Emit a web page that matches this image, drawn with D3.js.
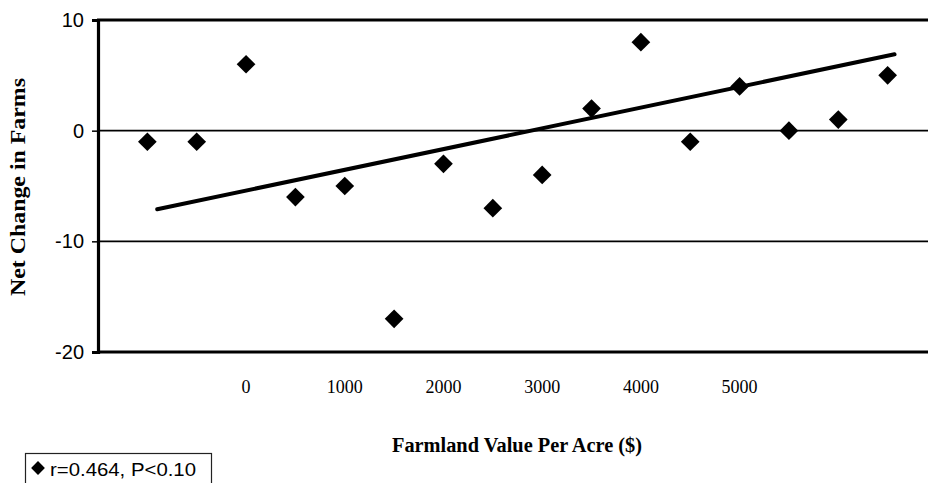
<!DOCTYPE html>
<html>
<head>
<meta charset="utf-8">
<script src="https://cdn.jsdelivr.net/npm/d3@7"></script>
<style>
  html, body { margin: 0; padding: 0; background: #fff; }
  svg { display: block; }
</style>
</head>
<body>
<div id="chart"></div>
<script>
// values
const farmValue = [-1000, -500, 0, 500, 1000, 1500, 2000, 2500, 3000, 3500, 4000, 4500, 5000, 5500, 6000, 6500]
const netChange = [-1, -1, 6, -6, -5, -17, -3, -7, -4, 2, 8, -1, 4, 0, 1, 5]
const trendX = [-900, 6570]
const trendY = [-7.1, 6.9]
const xTicks = [0, 1000, 2000, 3000, 4000, 5000]
const yTicks = [-20, -10, 0, 10]
const gridAt = [-10, 0]
const legendText = 'r=0.464, P<0.10'

const W = 928, H = 483
const svg = d3.select('#chart').append('svg')
    .attr('width', W)
    .attr('height', H)

const x = d3.scaleLinear().domain([-1500, 7000]).range([98, 937])
const y = d3.scaleLinear().domain([-20, 10]).range([352, 20])

// grid lines
svg.append('g')
    .selectAll('line')
    .data(gridAt)
    .join('line')
    .attr('x1', x(-1500)).attr('x2', W)
    .attr('y1', d => y(d)).attr('y2', d => y(d))
    .attr('stroke', '#000')
    .attr('stroke-width', 1.6)

// frame top / bottom
svg.append('g')
    .selectAll('line')
    .data([10, -20])
    .join('line')
    .attr('x1', x(-1500) - 1).attr('x2', W)
    .attr('y1', d => y(d)).attr('y2', d => y(d))
    .attr('stroke', '#000')
    .attr('stroke-width', 3.2)

// y axis
const yAxis = svg.append('g')
    .attr('transform', `translate(${x(-1500)},0)`)
    .call(d3.axisLeft(y).tickValues(yTicks).tickSize(6).tickPadding(8).tickFormat(d3.format('d')))
yAxis.select('.domain').attr('stroke-width', 3.2)
yAxis.selectAll('.tick line').attr('stroke-width', 1.5)
yAxis.selectAll('.tick text')
    .attr('font-family', 'Arial, "Liberation Sans", sans-serif')
    .attr('font-size', 20)
    .attr('fill', '#000')
    .text(d => d < 0 ? '-' + Math.abs(d) : d)

// x tick labels, no tick marks
svg.append('g')
    .selectAll('text')
    .data(xTicks)
    .join('text')
    .attr('x', d => x(d))
    .attr('y', 393)
    .attr('text-anchor', 'middle')
    .attr('font-family', '"Liberation Serif", "Times New Roman", serif')
    .attr('font-size', 18)
    .text(d => d)

// trend line
svg.append('line')
    .attr('x1', x(trendX[0])).attr('y1', y(trendY[0]))
    .attr('x2', x(trendX[1])).attr('y2', y(trendY[1]))
    .attr('stroke', '#000')
    .attr('stroke-width', 4)
    .attr('stroke-linecap', 'round')

// points
const diamond = d3.symbol().type(d3.symbolSquare).size(175)
svg.append('g')
    .selectAll('path')
    .data(farmValue.map((v, i) => [v, netChange[i]]))
    .join('path')
    .attr('d', diamond)
    .attr('transform', d => `translate(${x(d[0])},${y(d[1])}) rotate(45)`)
    .attr('fill', '#000')

// axis titles
svg.append('text')
    .attr('transform', `translate(25,187) rotate(-90)`)
    .attr('text-anchor', 'middle')
    .attr('font-family', '"Liberation Serif", "Times New Roman", serif')
    .attr('font-weight', 'bold')
    .attr('font-size', 21)
    .attr('textLength', 218)
    .attr('lengthAdjust', 'spacingAndGlyphs')
    .text('Net Change in Farms')

svg.append('text')
    .attr('x', 517)
    .attr('y', 452)
    .attr('text-anchor', 'middle')
    .attr('font-family', '"Liberation Serif", "Times New Roman", serif')
    .attr('font-weight', 'bold')
    .attr('font-size', 20)
    .attr('textLength', 250)
    .attr('lengthAdjust', 'spacingAndGlyphs')
    .text('Farmland Value Per Acre ($)')

// legend
const lg = svg.append('g')
lg.append('rect')
    .attr('x', 25.5).attr('y', 453.5)
    .attr('width', 186).attr('height', 40)
    .attr('fill', 'none')
    .attr('stroke', '#222')
    .attr('stroke-width', 1.2)
lg.append('path')
    .attr('d', d3.symbol().type(d3.symbolSquare).size(95))
    .attr('transform', 'translate(38,468) rotate(45)')
    .attr('fill', '#000')
lg.append('text')
    .attr('x', 50)
    .attr('y', 476)
    .attr('font-family', 'Arial, "Liberation Sans", sans-serif')
    .attr('font-size', 19)
    .attr('textLength', 146)
    .attr('lengthAdjust', 'spacingAndGlyphs')
    .text(legendText)
</script>
</body>
</html>
